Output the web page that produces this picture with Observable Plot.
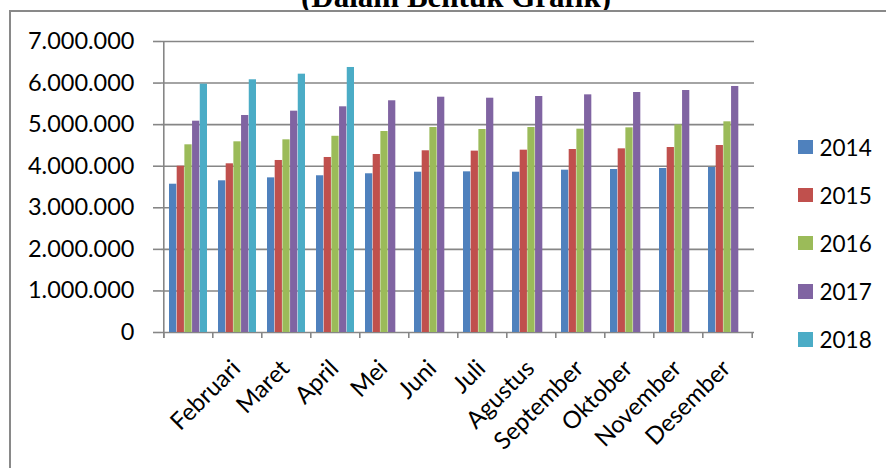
<!DOCTYPE html>
<html>
<head>
<meta charset="utf-8">
<script src="https://cdn.jsdelivr.net/npm/d3@7"></script>
<script src="https://cdn.jsdelivr.net/npm/@observablehq/plot@0.6"></script>
<style>
  html, body { margin: 0; padding: 0; background: #fff; overflow: hidden; }
  #wrap { position: relative; width: 886px; height: 468px; }
  #chart { position: absolute; left: 0; top: 0; }
  #title { position: absolute; left: 0; top: 0; width: 886px; height: 10px; overflow: hidden; z-index: 3; }
  #title span { position: absolute; left: 456px; top: -19px; transform: translateX(-50%);
    font: bold 31px/31px "Liberation Serif", serif; white-space: nowrap; color: #000; }
  #border { position: absolute; left: 9px; top: 10px; width: 900px; height: 480px;
    border-left: 2px solid #898989; border-top: 2px solid #898989; z-index: 2; pointer-events: none; }
  #legend { position: absolute; left: 798px; top: 123px; z-index: 3; font: 22.5px Lato, sans-serif; color: #000; }
  #legend .row { display: flex; align-items: center; height: 48.1px; }
  #legend .sw { width: 14.5px; height: 14.5px; margin-right: 7px; }
</style>
</head>
<body>
<div id="wrap">
  <div id="title"><span>(Dalam Bentuk Grafik)</span></div>
  <div id="border"></div>
  <div id="chart"></div>
  <div id="legend"></div>
</div>
<script>
// ---- data ----
const months = ["Januari", "Februari", "Maret", "April", "Mei", "Juni", "Juli", "Agustus", "September", "Oktober", "November", "Desember"];
const xTickLabels = ["", "Februari", "Maret", "April", "Mei", "Juni", "Juli", "Agustus", "September", "Oktober", "November", "Desember"];
const years = ["2014", "2015", "2016", "2017", "2018"];
const colors = ["#4F81BD", "#C0504D", "#9BBB59", "#8064A2", "#4BACC6"];
const v2014 = [3567000, 3649000, 3720000, 3770000, 3818000, 3856000, 3865000, 3856000, 3905000, 3921000, 3945000, 3969000];
const v2015 = [4000000, 4058000, 4138000, 4210000, 4282000, 4371000, 4363000, 4386000, 4402000, 4418000, 4450000, 4498000];
const v2016 = [4515000, 4587000, 4635000, 4720000, 4835000, 4931000, 4883000, 4931000, 4891000, 4923000, 4995000, 5068000];
const v2017 = [5083000, 5220000, 5324000, 5429000, 5574000, 5660000, 5636000, 5677000, 5717000, 5773000, 5821000, 5918000];
const v2018 = [5973000, 6079000, 6214000, 6375000, null, null, null, null, null, null, null, null];
const yTicks = [0, 1000000, 2000000, 3000000, 4000000, 5000000, 6000000, 7000000];
const yTickLabels = ["0", "1.000.000", "2.000.000", "3.000.000", "4.000.000", "5.000.000", "6.000.000", "7.000.000"];

const series = [v2014, v2015, v2016, v2017, v2018];
const rows = [];
series.forEach((vals, k) => vals.forEach((v, i) => {
  if (v != null) rows.push({month: months[i], year: years[k], value: v});
}));

// ---- layout ----
const W = 886, H = 468;
const mL = 161, mR = 132, mT = 41, mB = 136;
const pInner = 0.222, pOuter = pInner / 2;
const step = (W - mL - mR) / months.length;
const slot = step * (1 - pInner) / years.length;
const grey = "#868686";

const marks = [
  Plot.gridY(yTicks, {stroke: grey, strokeOpacity: 1, strokeWidth: 1.6}),
  ...years.map((yr, k) => Plot.barY(rows.filter(r => r.year === yr), {
    x: "month", y: "value", fill: colors[k],
    insetLeft: k * slot, insetRight: (years.length - 1 - k) * slot
  })),
  // y axis line (left boundary)
  Plot.ruleX([months[0]], {x: d => d, dx: -step / 2, insetBottom: -6, stroke: grey, strokeWidth: 1.6}),
  // category boundary ticks
  Plot.ruleX(months, {x: d => d, y1: 0, y2: 0, dx: -step / 2, insetBottom: -6, stroke: grey, strokeWidth: 1.6}),
  Plot.ruleX([months[months.length - 1]], {x: d => d, y1: 0, y2: 0, dx: step / 2, insetBottom: -6, stroke: grey, strokeWidth: 1.6}),
  Plot.axisY(yTicks, {label: null, tickSize: 8, tickPadding: 19, stroke: grey, strokeWidth: 1.6, fill: "#000",
    tickFormat: d => yTickLabels[yTicks.indexOf(d)], fontSize: 23.5}),
  Plot.axisX(months, {label: null, tickSize: 0, tickPadding: 32, tickRotate: -45, dx: -1, fill: "#000",
    tickFormat: d => xTickLabels[months.indexOf(d)], fontSize: 24})
];

const chart = Plot.plot({
  width: W, height: H,
  marginLeft: mL, marginRight: mR, marginTop: mT, marginBottom: mB,
  style: {fontFamily: "Lato, sans-serif", fontSize: "22px", color: "#000", background: "transparent", overflow: "visible"},
  x: {domain: months, paddingInner: pInner, paddingOuter: pOuter, axis: null, label: null},
  y: {domain: [0, 7000000], axis: null, label: null},
  marks
});
document.getElementById("chart").appendChild(chart);

// ---- legend ----
const legend = document.getElementById("legend");
years.forEach((yr, k) => {
  const row = document.createElement("div");
  row.className = "row";
  const sw = document.createElement("div");
  sw.className = "sw";
  sw.style.background = colors[k];
  const t = document.createElement("span");
  t.textContent = yr;
  row.appendChild(sw);
  row.appendChild(t);
  legend.appendChild(row);
});
</script>
</body>
</html>
